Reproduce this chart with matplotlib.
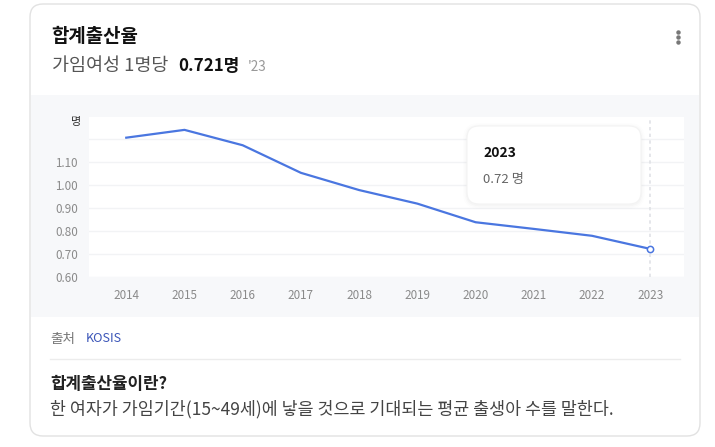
import matplotlib
matplotlib.use("Agg")
import matplotlib.pyplot as plt
from matplotlib.patches import FancyBboxPatch, Rectangle
from matplotlib.lines import Line2D
from matplotlib.transforms import IdentityTransform

plt.rcParams['font.family'] = ['Noto Sans CJK KR', 'DejaVu Sans']

years = [2014, 2015, 2016, 2017, 2018, 2019, 2020, 2021, 2022, 2023]
rates = [1.205, 1.239, 1.172, 1.052, 0.977, 0.918, 0.837, 0.808, 0.778, 0.721]
y_ticks = [0.60, 0.70, 0.80, 0.90, 1.00, 1.10]
y_tick_labels = ['0.60', '0.70', '0.80', '0.90', '1.00', '1.10']
title = '합계출산율'
subtitle = '가임여성 1명당'
headline_value = '0.721명'
headline_year = "'23"
tooltip_year = '2023'
tooltip_value = '0.72 명'
source_label = '출처'
source_name = 'KOSIS'
def_title = '합계출산율이란?'
def_text = '한 여자가 가임기간(15~49세)에 낳을 것으로 기대되는 평균 출생아 수를 말한다.'

W, H = 715, 447
fig = plt.figure(figsize=(W / 100, H / 100), dpi=100)
fig.patch.set_facecolor('white')
ID = IdentityTransform()
renderer = fig.canvas.get_renderer()


def box(x0, y0, x1, y1, r, **kw):
    p = FancyBboxPatch((x0, H - y1), x1 - x0, y1 - y0,
                       boxstyle=f"round,pad=0,rounding_size={r}", transform=ID, **kw)
    fig.add_artist(p)
    return p


def ptext(x, y, s, target_w=None, size=10, **kw):
    t = fig.text(x / W, 1 - y / H, s, fontsize=size, va='center', ha='left', **kw)
    if target_w is not None:
        w = t.get_window_extent(renderer).width
        t.set_fontsize(size * target_w / w)
    return t


# card and gray band
box(30, 4, 700, 436, 13, facecolor='white', edgecolor='#e2e2e2', linewidth=1.0, zorder=-3)
fig.add_artist(Rectangle((30.7, H - 317), 668.6, 317 - 95, transform=ID,
                         facecolor='#f7f8fa', edgecolor='none', zorder=-2))

# header texts
ptext(51, 36, title, target_w=87, size=13, fontweight='bold', color='#111111')
ptext(52, 66, subtitle, target_w=117, size=12, color='#555555')
ptext(178, 66, headline_value, target_w=61, size=12, fontweight='bold', color='#111111')
ptext(248, 67, headline_year, target_w=19, size=9, color='#999999')

# three dots menu
for yy in (32, 37, 42):
    fig.add_artist(Line2D([678], [H - yy], marker='o', markersize=2.2,
                          color='#777777', transform=ID, zorder=3))

# axes
ax = fig.add_axes([89 / W, 1 - 276.7 / H, (684 - 89) / W, (276.7 - 117) / H])
ax.set_facecolor('white')
ax.set_xlim(2014 - 0.64, 2023 + 0.58)
ax.set_ylim(0.60, 1.295)
for s in ax.spines.values():
    s.set_visible(False)
ax.set_yticks(y_ticks + [1.20])
ax.set_yticklabels(y_tick_labels + [''])
ax.set_xticks(years)
ax.set_xticklabels([str(y) for y in years])
ax.tick_params(axis='both', length=0, labelsize=8.4, labelcolor='#8a8a8a')
ax.tick_params(axis='x', pad=9)
ax.tick_params(axis='y', pad=8)
ax.grid(axis='y', color='#f2f3f5', linewidth=1.0)
ax.set_axisbelow(True)

ax.axvline(years[-1], color='#e0e2e6', linewidth=1.2, linestyle=(0, (2, 2)), zorder=1)
ax.plot(years, rates, color='#4a76e0', linewidth=1.6, zorder=3)
ax.plot([years[-1]], [rates[-1]], marker='o', markersize=4.5, markerfacecolor='white',
        markeredgecolor='#4a76e0', markeredgewidth=1.1, zorder=4)

fig.text(76 / W, 1 - 122 / H, '명', fontsize=8, color='#333333', va='center', ha='center')

# tooltip with soft shadow
for off, a in [(4, 0.008), (2.5, 0.01), (1.2, 0.014)]:
    box(467 - off, 126 - off + 1, 641 + off, 204 + off + 1, 12 + off,
        facecolor=(0, 0, 0, a), edgecolor='none', zorder=5)
box(467, 126, 641, 204, 12, facecolor='white', edgecolor='#f3f3f3', linewidth=0.8, zorder=6)
ptext(483, 153, tooltip_year, size=10, fontweight='bold', color='#111111', zorder=7)
ptext(483, 179, tooltip_value, size=9.5, color='#666666', zorder=7)

# bottom section
ptext(50, 339, source_label, target_w=25, size=9, color='#777777')
ptext(86, 339, source_name, target_w=36, size=9, color='#3b55b8')
fig.add_artist(Line2D([50, 680], [H - 359, H - 359], color='#ececec', linewidth=1.0,
                      transform=ID))
ptext(50, 384, def_title, target_w=117, size=11, fontweight='bold', color='#222222')
ptext(50, 409, def_text, target_w=565, size=11.5, color='#444444')

fig.savefig('out.png', dpi=100, facecolor='white')
